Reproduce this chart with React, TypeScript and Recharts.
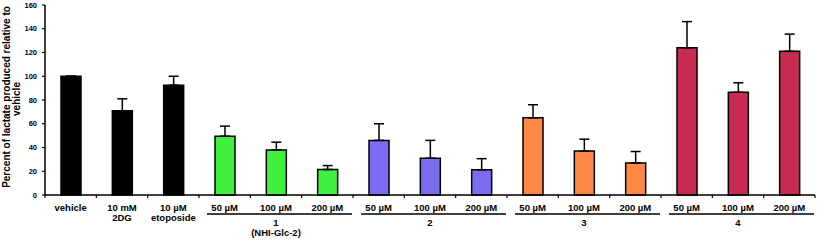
import React from "react";
import { BarChart, Bar, XAxis, YAxis, ErrorBar, Cell } from "recharts";

const ids = ["c0", "c1", "c2", "c3", "c4", "c5", "c6", "c7", "c8", "c9", "c10", "c11", "c12", "c13", "c14"];
const catLabels: string[][] = [
  ["vehicle"],
  ["10 mM", "2DG"],
  ["10 µM", "etoposide"],
  ["50 µM"], ["100 µM"], ["200 µM"],
  ["50 µM"], ["100 µM"], ["200 µM"],
  ["50 µM"], ["100 µM"], ["200 µM"],
  ["50 µM"], ["100 µM"], ["200 µM"],
];
const values = [100, 71, 92.5, 49.5, 38, 21.5, 46, 31, 21.3, 65, 37, 27, 124, 86.5, 121];
const upperErr = [0, 10, 7.5, 8.5, 6.5, 3.3, 14, 15, 9.3, 11, 10, 9.6, 22, 8, 14.5];
const colors = [
  "#000000", "#000000", "#000000",
  "#3ff03f", "#3ff03f", "#3ff03f",
  "#7a6bf0", "#7a6bf0", "#7a6bf0",
  "#ff8844", "#ff8844", "#ff8844",
  "#c72b52", "#c72b52", "#c72b52",
];
const groups = [
  { start: 3, end: 5, lines: ["1", "(NHI-Glc-2)"] },
  { start: 6, end: 8, lines: ["2"] },
  { start: 9, end: 11, lines: ["3"] },
  { start: 12, end: 14, lines: ["4"] },
];
const yTicks = [0, 20, 40, 60, 80, 100, 120, 140, 160];

const data = ids.map((id, i) => ({ id, value: values[i], err: [0, upperErr[i]] }));

const FONT = "Arial, 'Liberation Sans', sans-serif";

const CatTick = (props: any) => {
  const { x, y, payload, width } = props;
  const i = payload.index;
  const band = width / ids.length;
  const top = y;
  const lines = catLabels[i];
  const grp = groups.find((g) => g.start === i);
  const mid = groups.find((g) => (g.start + g.end) / 2 === i);
  return (
    <g>
      <line x1={x - band / 2} x2={x - band / 2} y1={top} y2={top + 3} stroke="#000" strokeWidth={1.2} />
      {i === ids.length - 1 && (
        <line x1={x + band / 2} x2={x + band / 2} y1={top} y2={top + 3} stroke="#000" strokeWidth={1.2} />
      )}
      {lines.map((t, k) => (
        <text key={k} x={x} y={top + 16 + k * 10} textAnchor="middle" fontFamily={FONT} fontWeight="bold" fontSize={9.5} fill="#000">
          {t}
        </text>
      ))}
      {grp && (
        <line
          x1={x - band / 2 + 8}
          x2={x + (grp.end - grp.start + 0.5) * band - 1}
          y1={top + 19}
          y2={top + 19}
          stroke="#000"
          strokeWidth={1.3}
        />
      )}
      {mid &&
        mid.lines.map((t, k) => (
          <text key={"g" + k} x={x} y={top + 31 + k * 10} textAnchor="middle" fontFamily={FONT} fontWeight="bold" fontSize={9.5} fill="#000">
            {t}
          </text>
        ))}
    </g>
  );
};

const YLabel = () => (
  <g>
    <text transform="translate(10,97) rotate(-90)" textAnchor="middle" fontFamily={FONT} fontWeight="bold" fontSize={10} fill="#000">
      Percent of lactate produced relative to
    </text>
    <text transform="translate(20,99) rotate(-90)" textAnchor="middle" fontFamily={FONT} fontWeight="bold" fontSize={10} fill="#000">
      vehicle
    </text>
  </g>
);

export default function App() {
  return (
    <div style={{ width: 817, height: 242 }}>
      <style>{"body{margin:0}"}</style>
      <BarChart width={817} height={242} data={data} margin={{ top: 5, right: 2, left: 0, bottom: 0 }}>
        <XAxis
          dataKey="id"
          height={47}
          tickLine={false}
          tickSize={0}
          tickMargin={0}
          interval={0}
          axisLine={{ stroke: "#000", strokeWidth: 1.5 }}
          tick={<CatTick />}
        />
        <YAxis
          width={45}
          domain={[0, 160]}
          ticks={yTicks}
          interval={0}
          tickSize={3}
          tickMargin={5}
          axisLine={{ stroke: "#000", strokeWidth: 1.5 }}
          tickLine={{ stroke: "#000", strokeWidth: 1.2 }}
          tick={{ fontFamily: FONT, fontWeight: "bold", fontSize: 7.5, fill: "#000" }}
          label={<YLabel />}
        />
        <Bar dataKey="value" barSize={20} stroke="#000" strokeWidth={1.5} isAnimationActive={false}>
          {data.map((d, i) => (
            <Cell key={d.id} fill={colors[i]} />
          ))}
          <ErrorBar dataKey="err" width={5} stroke="#000" strokeWidth={1.5} direction="y" />
        </Bar>
      </BarChart>
    </div>
  );
}
